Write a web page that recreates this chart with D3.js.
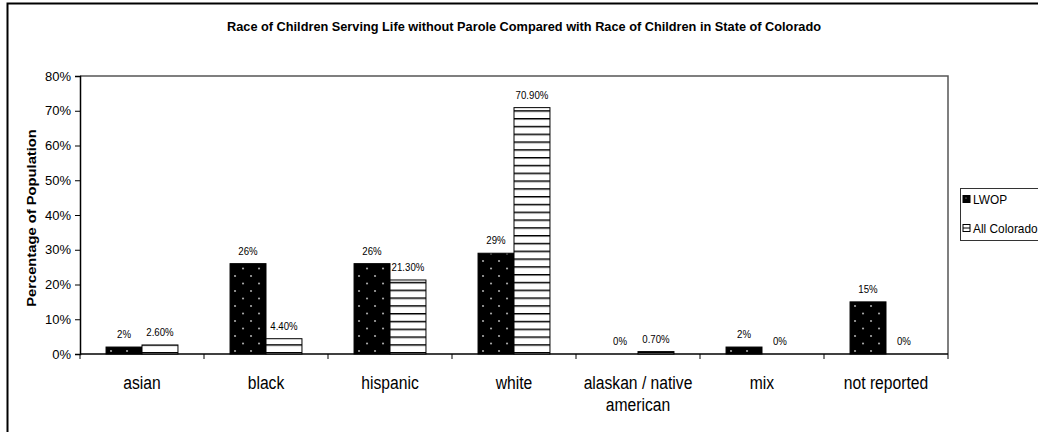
<!DOCTYPE html>
<html>
<head>
<meta charset="utf-8">
<script src="https://cdn.jsdelivr.net/npm/d3@7"></script>
<style>
  html, body { margin: 0; padding: 0; background: #fff; }
  svg { display: block; }
  text { font-family: "Liberation Sans", Arial, sans-serif; fill: #000; }
</style>
</head>
<body>
<div id="chart"></div>
<script>
// Race categories and the share of each group (fractions of population)
const categories = ["asian", "black", "hispanic", "white", "alaskan / native american", "mix", "not reported"];
const seriesNames = ["LWOP", "All Colorado"];
const lwopValues = [0.02, 0.26, 0.26, 0.29, 0.00, 0.02, 0.15];
const coloradoValues = [0.026, 0.044, 0.213, 0.709, 0.007, 0.00, 0.00];
const yTicks = [0, 0.1, 0.2, 0.3, 0.4, 0.5, 0.6, 0.7, 0.8];
const chartTitle = "Race of Children Serving Life without Parole Compared with Race of Children in State of Colorado";
const yTitle = "Percentage of Population";

const W = 1038, H = 432;
const plot = { left: 80, right: 948, top: 76, bottom: 354 };
const NARROW = 0.84; // horizontal squeeze applied to the value labels

const svg = d3.select("#chart").append("svg").attr("width", W).attr("height", H);
const defs = svg.append("defs");

// Black fill with a staggered lattice of small white dots
const dots = defs.append("pattern").attr("id", "dots")
  .attr("patternUnits", "userSpaceOnUse").attr("width", 16).attr("height", 15)
  .attr("x", 1).attr("y", 2);
dots.append("rect").attr("width", 16).attr("height", 15).attr("fill", "#000");
dots.append("circle").attr("cx", 4).attr("cy", 4).attr("r", 0.9).attr("fill", "#ccc");
dots.append("circle").attr("cx", 12).attr("cy", 11.5).attr("r", 0.9).attr("fill", "#ccc");

// White fill crossed by evenly spaced horizontal rules
const stripes = defs.append("pattern").attr("id", "stripes")
  .attr("patternUnits", "userSpaceOnUse").attr("width", 8).attr("height", 7.8)
  .attr("y", 1);
stripes.append("rect").attr("width", 8).attr("height", 7.8).attr("fill", "#fff");
stripes.append("rect").attr("y", 0).attr("width", 8).attr("height", 1).attr("fill", "#000");
stripes.append("rect").attr("y", 1).attr("width", 8).attr("height", 1).attr("fill", "#777");

const fills = { "LWOP": "url(#dots)", "All Colorado": "url(#stripes)" };

// Outer chart frame
svg.append("rect").attr("x", 7.5).attr("y", 3.5).attr("width", W + 20).attr("height", H + 20)
  .attr("fill", "none").attr("stroke", "#000").attr("stroke-width", 2);

// Title
svg.append("text").attr("x", 524).attr("y", 31).attr("text-anchor", "middle")
  .attr("font-weight", "bold").attr("font-size", 12.5)
  .attr("textLength", 594).attr("lengthAdjust", "spacingAndGlyphs")
  .text(chartTitle);

const x = d3.scaleBand().domain(categories).range([plot.left, plot.right])
  .paddingInner(0.42).paddingOuter(0.21);
const xInner = d3.scaleBand().domain(seriesNames).range([0, x.bandwidth()]);
const y = d3.scaleLinear().domain([0, 0.8]).range([plot.bottom, plot.top]);

// Plot frame (top and right edges)
svg.append("path")
  .attr("d", `M${plot.left},${plot.top}H${plot.right}V${plot.bottom}`)
  .attr("fill", "none").attr("stroke", "#555").attr("stroke-width", 1.5);

// Y axis
const yAxis = svg.append("g").attr("transform", `translate(${plot.left},0)`)
  .call(d3.axisLeft(y).tickValues(yTicks).tickFormat(d3.format(".0%")).tickSize(5).tickPadding(4));
yAxis.select(".domain").attr("stroke", "#000").attr("stroke-width", 1.5);
yAxis.selectAll(".tick line").attr("stroke", "#000");
yAxis.selectAll(".tick text").attr("font-size", 13)
  .attr("font-family", "Liberation Sans, Arial, sans-serif");

svg.append("text")
  .attr("transform", `translate(36,${(plot.top + plot.bottom) / 2 + 3}) rotate(-90) scale(1.18,1)`)
  .attr("text-anchor", "middle").attr("font-weight", "bold").attr("font-size", 12.5)
  .text(yTitle);

// X axis with ticks on category boundaries
const boundaries = categories.map(c => x(c) - x.step() * x.paddingInner() / 2).concat([plot.right]);
const xg = svg.append("g");
xg.append("line").attr("x1", plot.left).attr("x2", plot.right)
  .attr("y1", plot.bottom).attr("y2", plot.bottom).attr("stroke", "#000").attr("stroke-width", 1.5);
xg.selectAll(".btick").data(boundaries).join("line")
  .attr("x1", d => d).attr("x2", d => d)
  .attr("y1", plot.bottom).attr("y2", plot.bottom + 5).attr("stroke", "#000");

const catLines = { "alaskan / native american": ["alaskan / native", "american"] };
const catLabel = xg.selectAll(".cat").data(categories).join("text")
  .attr("text-anchor", "middle").attr("font-size", 18)
  .attr("transform", d => `translate(${x(d) + x.bandwidth() / 2},389) scale(0.87,1)`);
catLabel.selectAll("tspan").data(d => catLines[d] || [d]).join("tspan")
  .attr("x", 0)
  .attr("dy", (d, i) => i === 0 ? 0 : 22)
  .text(d => d);

// Bars
const rows = categories.map((c, i) => ({
  category: c,
  values: [
    { series: "LWOP", value: lwopValues[i] },
    { series: "All Colorado", value: coloradoValues[i] }
  ]
}));

const fmtLWOP = d3.format(".0%");
const fmtCO = v => v === 0 ? "0%" : d3.format(".2%")(v);

const groups = svg.append("g").selectAll("g").data(rows).join("g")
  .attr("transform", d => `translate(${x(d.category)},0)`);

groups.selectAll("rect").data(d => d.values).join("rect")
  .attr("x", d => xInner(d.series))
  .attr("y", d => y(d.value))
  .attr("width", xInner.bandwidth())
  .attr("height", d => y(0) - y(d.value))
  .attr("fill", d => fills[d.series])
  .attr("stroke", "#000").attr("stroke-width", 1);

groups.selectAll("text").data(d => d.values).join("text")
  .attr("text-anchor", "middle").attr("font-size", 11.5)
  .attr("transform", d => `translate(${xInner(d.series) + xInner.bandwidth() / 2},${y(d.value) - 9}) scale(${NARROW},1)`)
  .text(d => d.series === "LWOP" ? fmtLWOP(d.value) : fmtCO(d.value));

// Legend
const legend = svg.append("g");
legend.append("rect").attr("x", 960.5).attr("y", 188.5).attr("width", 100).attr("height", 52)
  .attr("fill", "#fff").attr("stroke", "#333");
const li = legend.selectAll(".item").data(seriesNames).join("g")
  .attr("transform", (d, i) => `translate(963,${199 + i * 29})`);
li.append("rect").attr("x", 0).attr("y", -3.5).attr("width", 7).attr("height", 7)
  .attr("fill", d => d === "LWOP" ? "#000" : "#fff").attr("stroke", "#000");
li.filter(d => d === "LWOP").append("circle").attr("cx", 3).attr("cy", -1).attr("r", 0.6).attr("fill", "#ccc");
li.filter(d => d !== "LWOP").append("line").attr("x1", 0).attr("x2", 7).attr("y1", 0).attr("y2", 0).attr("stroke", "#000");
li.append("text").attr("font-size", 12.5)
  .attr("transform", `translate(10,4.5) scale(0.95,1)`)
  .text(d => d);
</script>
</body>
</html>
